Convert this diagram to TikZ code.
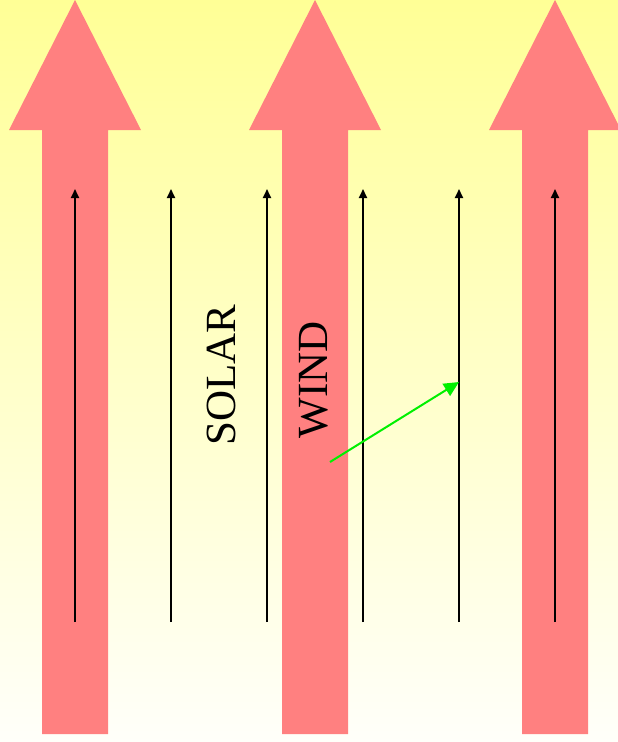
\documentclass[tikz,border=0pt]{standalone}
\usepackage{fontspec}
\setmainfont{Liberation Serif}
\usetikzlibrary{arrows.meta}
\definecolor{bgtop}{RGB}{255,255,150}
\definecolor{bgbot}{RGB}{255,255,250}
\definecolor{bigpink}{RGB}{255,128,128}
\definecolor{greenarrow}{RGB}{0,240,0}
\tikzset{
  bigarrow/.style={fill=bigpink, draw=none},
  thinarrow/.style={draw=black, line width=2pt, -{Stealth[length=9pt,width=8pt,inset=0pt]}},
  greenconn/.style={draw=greenarrow, line width=2pt, -{Stealth[length=15pt,width=14pt,inset=0pt]}},
  label/.style={font=\fontsize{43}{50}\selectfont, text=black, inner sep=0pt, rotate=90}
}
\begin{document}
\begin{tikzpicture}[x=1pt,y=-1pt]
\useasboundingbox (0,0) rectangle (618,742);
\shade[top color=bgtop, bottom color=bgbot] (0,0) rectangle (618,742);
% big arrows
\foreach \cx in {75,315,555}{
  \fill[bigarrow] (\cx-33,734) -- (\cx-33,130) -- (\cx-66,130) -- (\cx,0)
    -- (\cx+66,130) -- (\cx+33,130) -- (\cx+33,734) -- cycle;
}
% thin arrows
\foreach \i/\x in {1/75,2/171,3/267,4/363,5/459,6/555}{
  \coordinate (b\i) at (\x,622);
  \coordinate (t\i) at (\x,189);
  \draw[thinarrow] (b\i) -- (t\i);
}
\node[label] (solar) at (221,375) {SOLAR};
\node[label] (wind) at (314,380) {WIND};
\coordinate (gs) at (330,462);
\coordinate (ge) at (459,382);
\draw[greenconn] (gs) -- (ge);
\end{tikzpicture}
\end{document}
